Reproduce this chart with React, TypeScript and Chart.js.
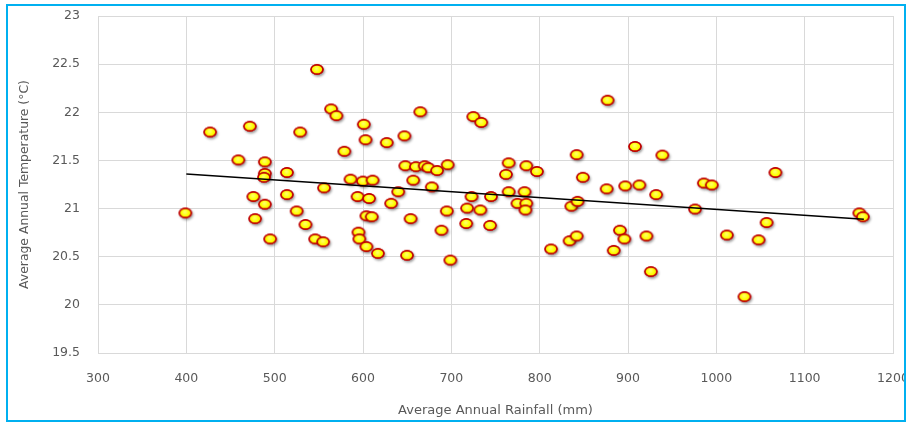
import React, { useEffect, useRef } from "react";
import { Chart, registerables } from "chart.js";

Chart.register(...registerables);

// Average annual rainfall (mm) of each station
const rainfall: number[] = [
  400, 428, 473, 460, 490, 490, 489, 477, 490, 479, 496, 515, 515, 530, 526, 536,
  549, 547, 556, 557, 565, 571, 580, 587, 595, 596, 597, 602, 604, 601, 612, 608,
  605, 611, 605, 618, 628, 648, 666, 641, 633, 649, 661, 671, 675, 685, 697, 658,
  679, 655, 651, 696, 690, 700, 726, 735, 724, 719, 734, 718, 746, 745, 766, 763,
  786, 798, 766, 784, 776, 786, 785, 814, 835, 843, 837, 844, 843, 850, 878, 877,
  892, 897, 885, 898, 909, 914, 940, 933, 922, 927, 987, 996, 977, 1013, 1033, 1049,
  1058, 1068, 1163, 1167,
];

// Average annual temperature (°C) of each station
const temperature: number[] = [
  20.95, 21.79, 21.85, 21.5, 21.48, 21.36, 21.32, 21.12, 21.04, 20.89, 20.68, 21.37, 21.14, 21.79, 20.97, 20.83,
  22.44, 20.68, 20.65, 21.21, 22.03, 21.96, 21.59, 21.3, 21.12, 20.75, 20.68, 21.87, 21.71, 21.28, 21.29, 21.1,
  20.92, 20.91, 20.6, 20.53, 21.68, 21.75, 22.0, 21.17, 21.05, 21.44, 21.43, 21.44, 21.42, 21.39, 21.45, 21.29,
  21.22, 20.89, 20.51, 20.97, 20.77, 20.46, 21.95, 21.89, 21.12, 21.0, 20.98, 20.84, 21.12, 20.82, 21.47, 21.35,
  21.44, 21.38, 21.17, 21.17, 21.05, 21.05, 20.98, 20.575, 20.66, 20.71, 21.02, 21.07, 21.555, 21.32, 22.12, 21.2,
  20.77, 20.68, 20.56, 21.23, 21.64, 21.24, 21.55, 21.14, 20.71, 20.34, 21.26, 21.24, 20.99, 20.72, 20.08, 20.67,
  20.85, 21.37, 20.95, 20.91,
];

// Linear trendline end points
const trendRainfall: number[] = [400, 1167];
const trendTemperature: number[] = [21.36, 20.89];

// Axis settings
const xMin = 300;
const xMax = 1200;
const xStep = 100;
const yMin = 19.5;
const yMax = 23;
const yStep = 0.5;
const xTitle = "Average Annual Rainfall (mm)";
const yTitle = "Average Annual Temperature (°C)";

function makeMarker(): HTMLCanvasElement {
  const c = document.createElement("canvas");
  c.width = 22;
  c.height = 20;
  const ctx = c.getContext("2d")!;
  const cx = 10;
  const cy = 9.5;
  const rx = 6.7;
  const ry = 5.4;
  // soft drop shadow
  ctx.save();
  ctx.shadowColor = "rgba(0,0,0,0.4)";
  ctx.shadowBlur = 2.5;
  ctx.shadowOffsetX = 1.2;
  ctx.shadowOffsetY = 1.8;
  ctx.beginPath();
  ctx.ellipse(cx, cy, rx, ry, 0, 0, Math.PI * 2);
  ctx.fillStyle = "#C00000";
  ctx.fill();
  ctx.restore();
  // yellow body
  const g = ctx.createRadialGradient(cx - 0.5, cy - 1, 0.5, cx, cy, rx);
  g.addColorStop(0, "#FFFF66");
  g.addColorStop(0.5, "#FFFF00");
  g.addColorStop(1, "#EEE000");
  ctx.beginPath();
  ctx.ellipse(cx, cy, rx - 0.8, ry - 0.8, 0, 0, Math.PI * 2);
  ctx.fillStyle = g;
  ctx.fill();
  ctx.lineWidth = 1.5;
  ctx.strokeStyle = "#C00000";
  ctx.stroke();
  return c;
}

export default function App() {
  const ref = useRef<HTMLCanvasElement | null>(null);

  useEffect(() => {
    if (!ref.current) return;
    const marker = makeMarker();
    const family = "'DejaVu Sans', sans-serif";
    const tickFont = { family, size: 12.5 };
    const chart = new Chart(ref.current, {
      type: "scatter",
      data: {
        datasets: [
          {
            type: "line",
            label: "Trend",
            data: trendRainfall.map((x, i) => ({ x, y: trendTemperature[i] })),
            borderColor: "#000000",
            borderWidth: 1.5,
            pointRadius: 0,
            fill: false,
          } as any,
          {
            label: "Stations",
            data: rainfall.map((x, i) => ({ x, y: temperature[i] })),
            pointStyle: marker as any,
            pointRadius: 6,
          },
        ],
      },
      options: {
        animation: false,
        responsive: false,
        layout: {
          padding: { left: 10, right: 13, top: 16, bottom: 0 },
          autoPadding: false,
        } as any,
        plugins: {
          legend: { display: false },
          tooltip: { enabled: false },
        },
        scales: {
          x: {
            type: "linear",
            min: xMin,
            max: xMax,
            ticks: {
              stepSize: xStep,
              color: "#595959",
              font: tickFont,
              padding: 18,
              callback: (v: any) => String(v),
            },
            grid: { color: "#D9D9D9", drawTicks: false },
            border: { color: "#D9D9D9" },
            title: {
              display: true,
              text: xTitle,
              color: "#595959",
              font: { family, size: 13 },
              padding: { top: 0, bottom: 5 },
            },
            afterFit: (s: any) => {
              s.height = 70;
              s.paddingLeft = 0;
              s.paddingRight = 0;
              s.paddingTop = 0;
              s.paddingBottom = 0;
            },
          },
          y: {
            type: "linear",
            min: yMin,
            max: yMax,
            ticks: {
              stepSize: yStep,
              color: "#595959",
              font: tickFont,
              padding: 18,
              callback: (v: any) => String(v),
            },
            grid: { color: "#D9D9D9", drawTicks: false },
            border: { color: "#D9D9D9" },
            title: {
              display: true,
              text: yTitle,
              color: "#595959",
              font: { family, size: 12.4 },
              padding: { top: 7, bottom: 0 },
            },
            afterFit: (s: any) => {
              s.width = 88;
              s.paddingLeft = 0;
              s.paddingRight = 0;
              s.paddingTop = 0;
              s.paddingBottom = 0;
            },
          },
        },
      },
    });
    return () => chart.destroy();
  }, []);

  return (
    <div
      style={{
        position: "fixed",
        left: 0,
        top: 0,
        width: 906,
        height: 423,
        background: "#ffffff",
        overflow: "hidden",
      }}
    >
      <canvas ref={ref} width={906} height={423} style={{ position: "absolute", left: 0, top: 0 }} />
      <div
        style={{
          position: "absolute",
          left: 6,
          top: 4,
          width: 896,
          height: 414,
          border: "2px solid #00B0F0",
          pointerEvents: "none",
        }}
      />
    </div>
  );
}
